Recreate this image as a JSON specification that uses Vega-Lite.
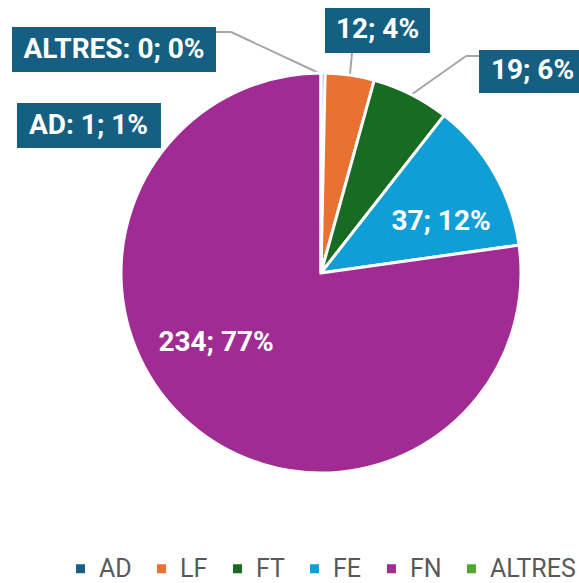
{
  "$schema": "https://vega.github.io/schema/vega-lite/v6.json",
  "width": 579,
  "height": 583,
  "autosize": {"type": "none"},
  "padding": 0,
  "background": "white",
  "config": {"view": {"stroke": null}},
  "data": {
    "values": [
      {"category": "AD", "idx": 1, "value": 1, "label": "AD: 1; 1%"},
      {"category": "LF", "idx": 2, "value": 12, "label": "12; 4%"},
      {"category": "FT", "idx": 3, "value": 19, "label": "19; 6%"},
      {"category": "FE", "idx": 4, "value": 37, "label": "37; 12%"},
      {"category": "FN", "idx": 5, "value": 234, "label": "234; 77%"},
      {"category": "ALTRES", "idx": 6, "value": 0, "label": "ALTRES: 0; 0%"}
    ]
  },
  "transform": [
    {"joinaggregate": [{"op": "sum", "field": "value", "as": "total"}]},
    {"window": [{"op": "sum", "field": "value", "as": "cum"}], "sort": [{"field": "idx"}], "frame": [null, 0]},
    {"calculate": "(datum.cum - datum.value / 2) / datum.total * 2 * PI", "as": "mid"},
    {"calculate": "sin(datum.mid)", "as": "ax"},
    {"calculate": "cos(datum.mid)", "as": "ay"}
  ],
  "encoding": {
    "x": {"field": "ax", "type": "quantitative", "scale": {"domain": [-1.61307, 1.29648], "nice": false, "zero": false}, "axis": null},
    "y": {"field": "ay", "type": "quantitative", "scale": {"domain": [-1.55779, 1.37186], "nice": false, "zero": false}, "axis": null}
  },
  "layer": [
    {
      "transform": [{"filter": "datum.category === 'ALTRES'"}],
      "mark": {"type": "rule", "color": "#A6A6A6", "strokeWidth": 2, "x2Offset": -90, "y2Offset": -42},
      "encoding": {"x2": {"field": "ax"}, "y2": {"field": "ay"}}
    },
    {
      "transform": [{"filter": "datum.category === 'ALTRES'"}],
      "mark": {"type": "rule", "color": "#A6A6A6", "strokeWidth": 2, "xOffset": -90, "yOffset": -42, "x2Offset": -105, "y2Offset": -42},
      "encoding": {"x2": {"field": "ax"}, "y2": {"field": "ay"}}
    },
    {
      "transform": [{"filter": "datum.category === 'LF'"}],
      "mark": {"type": "rule", "color": "#A6A6A6", "strokeWidth": 2, "x2Offset": 2.2, "y2Offset": -23.1},
      "encoding": {"x2": {"field": "ax"}, "y2": {"field": "ay"}}
    },
    {
      "transform": [{"filter": "datum.category === 'FT'"}],
      "mark": {"type": "rule", "color": "#A6A6A6", "strokeWidth": 2, "x2Offset": 55.5, "y2Offset": -39.3},
      "encoding": {"x2": {"field": "ax"}, "y2": {"field": "ay"}}
    },
    {
      "transform": [{"filter": "datum.category === 'FT'"}],
      "mark": {"type": "rule", "color": "#A6A6A6", "strokeWidth": 2, "xOffset": 55.5, "yOffset": -39.3, "x2Offset": 68.5, "y2Offset": -39.3},
      "encoding": {"x2": {"field": "ax"}, "y2": {"field": "ay"}}
    },
    {
      "mark": {"type": "arc", "outerRadius": 200, "stroke": "white", "strokeWidth": 3},
      "encoding": {
        "x": {"datum": 0, "type": "quantitative", "scale": {"domain": [-1.61307, 1.29648], "nice": false, "zero": false}, "axis": null},
        "y": {"datum": 0, "type": "quantitative", "scale": {"domain": [-1.55779, 1.37186], "nice": false, "zero": false}, "axis": null},
        "theta": {"field": "value", "type": "quantitative", "stack": true},
        "order": {"field": "idx", "type": "quantitative", "sort": "ascending"},
        "color": {
          "field": "category",
          "type": "nominal",
          "scale": {
            "domain": ["AD", "LF", "FT", "FE", "FN", "ALTRES"],
            "range": ["#156082", "#E97132", "#196B24", "#0F9ED5", "#A02B93", "#4EA72E"]
          },
          "legend": {
            "title": null,
            "orient": "none",
            "direction": "horizontal",
            "legendX": 68,
            "legendY": 556,
            "symbolType": "square",
            "symbolSize": 81,
            "symbolStrokeWidth": 0,
            "symbolOpacity": 1,
            "labelFont": "Roboto",
            "labelFontSize": 25,
            "labelColor": "#595959",
            "labelOffset": 6,
            "columnPadding": 17
          }
        }
      }
    },
    {
      "transform": [{"filter": "datum.category === 'ALTRES'"}],
      "mark": {"type": "rect", "color": "#156082", "xOffset": -309, "x2Offset": -105, "yOffset": -47, "y2Offset": -2},
      "encoding": {"x2": {"field": "ax"}, "y2": {"field": "ay"}}
    },
    {
      "transform": [{"filter": "datum.category === 'AD'"}],
      "mark": {"type": "rect", "color": "#156082", "xOffset": -306.1, "x2Offset": -162.1, "yOffset": 29, "y2Offset": 74},
      "encoding": {"x2": {"field": "ax"}, "y2": {"field": "ay"}}
    },
    {
      "transform": [{"filter": "datum.category === 'LF'"}],
      "mark": {"type": "rect", "color": "#156082", "xOffset": -24.8, "x2Offset": 80.2, "yOffset": -68.1, "y2Offset": -23.1},
      "encoding": {"x2": {"field": "ax"}, "y2": {"field": "ay"}}
    },
    {
      "transform": [{"filter": "datum.category === 'FT'"}],
      "mark": {"type": "rect", "color": "#156082", "xOffset": 68.5, "x2Offset": 173.5, "yOffset": -45.3, "y2Offset": -2.3},
      "encoding": {"x2": {"field": "ax"}, "y2": {"field": "ay"}}
    },
    {
      "transform": [{"filter": "datum.category === 'ALTRES'"}],
      "mark": {"type": "text", "font": "Roboto", "fontWeight": "bold", "fontSize": 28, "color": "white", "align": "center", "baseline": "middle", "dx": -207, "dy": -24},
      "encoding": {"text": {"field": "label"}}
    },
    {
      "transform": [{"filter": "datum.category === 'AD'"}],
      "mark": {"type": "text", "font": "Roboto", "fontWeight": "bold", "fontSize": 28, "color": "white", "align": "center", "baseline": "middle", "dx": -234.6, "dy": 51.5},
      "encoding": {"text": {"field": "label"}}
    },
    {
      "transform": [{"filter": "datum.category === 'LF'"}],
      "mark": {"type": "text", "font": "Roboto", "fontWeight": "bold", "fontSize": 28, "color": "white", "align": "center", "baseline": "middle", "dx": 27.7, "dy": -45.6},
      "encoding": {"text": {"field": "label"}}
    },
    {
      "transform": [{"filter": "datum.category === 'FT'"}],
      "mark": {"type": "text", "font": "Roboto", "fontWeight": "bold", "fontSize": 28, "color": "white", "align": "center", "baseline": "middle", "dx": 122, "dy": -23.8},
      "encoding": {"text": {"field": "label"}}
    },
    {
      "transform": [{"filter": "datum.category === 'FE'"}],
      "mark": {"type": "text", "font": "Roboto", "fontWeight": "bold", "fontSize": 28, "color": "white", "align": "center", "baseline": "middle", "dx": -52.3, "dy": 48.5},
      "encoding": {"text": {"field": "label"}}
    },
    {
      "transform": [{"filter": "datum.category === 'FN'"}],
      "mark": {"type": "text", "font": "Roboto", "fontWeight": "bold", "fontSize": 28, "color": "white", "align": "center", "baseline": "middle", "dx": 25.6, "dy": -80.2},
      "encoding": {"text": {"field": "label"}}
    }
  ]
}
